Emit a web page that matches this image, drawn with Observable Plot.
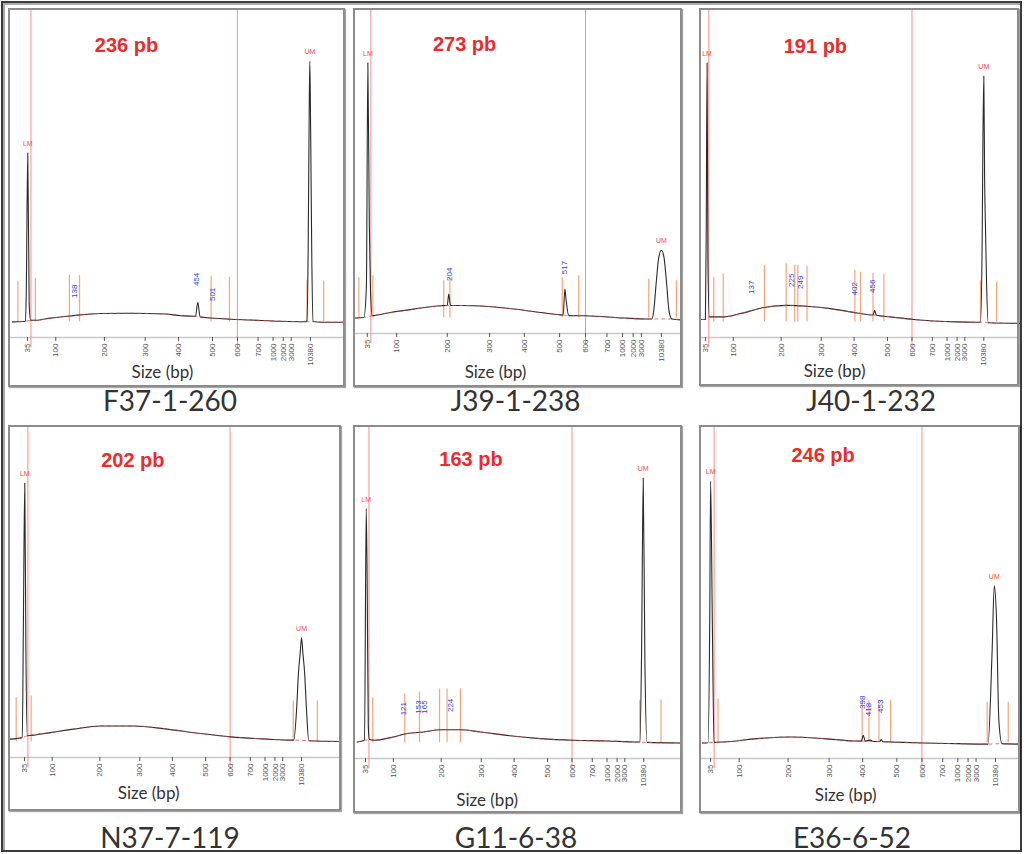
<!DOCTYPE html>
<html><head><meta charset="utf-8">
<script src="https://cdn.jsdelivr.net/npm/d3@7"></script>
<script src="https://cdn.jsdelivr.net/npm/@observablehq/plot@0.6"></script>
<style>
body{margin:0;background:#fff}
#fig{position:relative;width:1027px;height:854px;background:#fff;overflow:hidden;font-family:Lato,sans-serif}
.frame{position:absolute;left:1px;top:1px;width:1021px;height:851px;box-sizing:border-box;border:2px solid #3c3c3c;box-shadow:inset 2px 2px 0 #aaa;pointer-events:none}
.box{position:absolute;box-sizing:border-box;border:2px solid #8c8c8c;box-shadow:1px 1px 1px rgba(0,0,0,.35);pointer-events:none}
.plot{position:absolute}
.cap{position:absolute;width:240px;text-align:center;font:28px/28px Lato,sans-serif;color:#333;white-space:nowrap}
</style></head><body><div id="fig"><div class="frame"></div></div>
<script>
// ---------- data ----------
const sampleNames = ["F37-1-260", "J39-1-238", "J40-1-232", "N37-7-119", "G11-6-38", "E36-6-52"];
const avgSizes = [236, 273, 191, 202, 163, 246];
// ladder: size (bp) and relative migration time (35 bp = 0, 10380 bp = 100)
const ladderSizes = [35, 100, 200, 300, 400, 500, 600, 700, 1000, 2000, 3000, 10380];
const ladderTimes = [0, 10, 27.2, 41.6, 53.4, 65.4, 74.2, 81.5, 86.8, 90.4, 93.2, 100];
const regionBp = [43, 600];

// traces: [migration time, fluorescence, 1 = inside a peak]
const trace1 = [[-5.3,0],[-0.7,0.2],[-0.45,8.2,1],[0.1,54.1,1],[0.6,6,1],[1.1,0.5],[2.8,0.5],[8.1,1.2],[15.2,1.9],[25.8,2.7],[36.4,2.75],[48.8,2.5],[54.1,2.0],[59.4,1.8],[60.2,6.3,1],[61.0,1.6],[64.7,1.25],[71.7,0.85],[78.8,0.6],[89.4,0.2],[98.2,0.05],[98.8,0.1],[99.2,22,1],[99.6,70,1],[99.8,83.5,1],[100.1,60,1],[100.5,20,1],[100.9,0.1],[104,-0.1],[112,-0.1]];
const trace2 = [[-4.0,0],[-1.15,0.2],[-0.3,10,1],[0.2,82.7,1],[0.7,30,1],[1.1,8.8,1],[1.7,0.8],[7.9,1.8],[15.8,2.9],[24.9,4.0],[27.2,4.1],[27.7,7.75,1],[28.3,4.1],[36.2,4.0],[47.6,3.2],[58.9,1.8],[65.7,1.05],[66.6,1.0],[67.2,9.4,1],[67.6,6,1],[68.5,0.8],[74.2,0.75],[87.2,0],[95.1,-0.3],[96.8,-0.3],[97.4,2.35,1],[98.3,12.1,1],[99.1,19.6,1],[100,22.0,1],[100.9,19.6,1],[101.7,12.1,1],[102.6,2.35,1],[103.6,-0.3],[106.5,-0.6]];
const trace3 = [[-1.4,0.74],[0,0.8],[0.3,30,1],[0.6,82.9,1],[0.9,20,1],[1.4,1.6],[6.6,1.6],[12.6,2.66],[21,4.6],[29.4,5.3],[36.5,5.0],[44.9,4.25],[54.5,2.85],[60.2,2.2],[60.8,3.7,1],[61.4,2.1],[66.5,1.6],[74.8,0.75],[90.4,0],[97.6,-0.1],[98.8,-0.1],[99.4,25,1],[99.7,60,1],[100,78.7,1],[100.3,45,1],[100.6,30.3,1],[101.0,12,1],[101.6,-0.3],[113.2,-0.5]];
const trace4 = [[-5.05,0.83],[-0.8,1.3],[-0.4,37,1],[0.1,82.1,1],[0.5,30,1],[1.0,1.9],[9.4,2.9],[17.8,4.0],[27.4,5.0],[39.5,5.0],[51.5,4.0],[63.5,2.6],[74.4,1.55],[87.6,0.83],[96,0.5],[97.2,0.5],[98.2,10,1],[98.9,22,1],[99.5,28,1],[100,33,1],[100.5,28,1],[101.1,22,1],[101.8,10,1],[102.6,0.3],[114.1,0.07]];
const trace5 = [[-3.0,0.23],[-0.36,0.75],[0.25,74.1,1],[0.6,50,1],[1.0,5,1],[1.4,1.0],[3.0,0.76],[9.0,1.6],[15.0,2.9],[20.9,3.4],[26.9,4.1],[34.1,4.1],[41.3,3.4],[50.9,2.3],[62.9,1.3],[74.8,0.76],[86.8,0.55],[96.4,0.23],[98.6,0.2],[99.2,28,1],[99.8,83.7,1],[100.4,26,1],[101.2,0.1],[113.2,-0.1]];
const trace6 = [[-2.9,-0.1],[-0.9,0],[-0.3,40,1],[0,82.7,1],[0.6,38.6,1],[1.2,0.1],[4.7,0.23],[16.4,1.3],[28.1,1.8],[39.8,1.3],[50.3,0.55],[52.9,0.5],[53.6,2.3,1],[54.3,0.5],[56.1,0.8,1],[57,0.4],[59.4,0.4],[59.9,1.0,1],[60.5,0.3],[63.2,0.23],[74.8,-0.1],[86.6,-0.3],[95.9,-0.45],[97.4,-0.45],[98.8,28,1],[99.6,49.6,1],[100.4,38.6,1],[101.2,7.1,1],[102.3,-0.3],[108.8,-0.45]];

// peak start/end markers: [migration time, marker height]
const markers1 = [[-3.4,13.0],[2.8,14.0],[14.8,14.9],[18.4,14.9],[64.9,14.6],[71.4,14.3],[98.8,13.3],[104.7,13.0]];
const markers2 = [[-2.85,13.1],[1.9,13.7],[26.0,12.1],[28.1,13.1],[66.3,13.1],[71.9,13.7],[95.7,12.6],[105.1,12.1]];
const markers3 = [[3.0,14.3],[6.4,15.4],[21.2,18.1],[29.0,18.6],[32.1,18.1],[33.2,18.1],[36.5,17.8],[53.7,16.5],[55.7,15.9],[60.2,15.6],[64.1,15.2],[98.8,13.1],[104.6,12.7]];
const markers4 = [[-3.0,14.0],[2.4,14.5],[97.0,12.95],[105.7,12.95]];
const markers5 = [[2.6,14.2],[14.1,15.5],[19.4,16.0],[26.6,17.0],[29.3,17.0],[34.1,17.0],[98.6,13.4],[106.2,13.4]];
const markers6 = [[2.6,13.9],[53.2,13.4],[55.6,13.4],[59.1,13.4],[63.2,13.4],[97.1,12.8],[104.5,12.8]];

// called peaks: [size bp, label height]
const peaks1 = [[138,9.8],[454,13.6],[501,8.8]];
const peaks2 = [[204,14.2],[517,16.4]];
const peaks3 = [[137,11.1],[225,13.3],[249,12.7],[402,10.6],[456,11.4]];
const peaks4 = [];
const peaks5 = [[121,10.75],[153,11.3],[165,11.3],[224,11.8]];
const peaks6 = [[398,12.8],[418,10.5],[453,11.5]];

const traces = [trace1, trace2, trace3, trace4, trace5, trace6];
const markers = [markers1, markers2, markers3, markers4, markers5, markers6];
const peaks = [peaks1, peaks2, peaks3, peaks4, peaks5, peaks6];

// ---------- layout (positions & sizes) ----------
const layout = [
  {box:[8,8,337,379],   xDomain:[-6.0,111.7],  mb:50, titleX:35.0, titleDy:42.4, sizeX:47.7, sizeDy:34.7, cap:[170,411]},
  {box:[353,8,329,379], xDomain:[-4.0,106.5],  mb:54, titleX:33.1, titleDy:41.4, sizeX:43.6, sizeDy:39.3, cap:[515.5,411]},
  {box:[699,8,320,378], xDomain:[-1.4,112.1],  mb:49, titleX:39.5, titleDy:43.4, sizeX:46.4, sizeDy:34.4, cap:[871,411]},
  {box:[8,425,333,386], xDomain:[-5.05,113.7], mb:54, titleX:39.1, titleDy:40.7, sizeX:44.8, sizeDy:36.3, cap:[170,848]},
  {box:[353,425,329,388], xDomain:[-3.6,113.2], mb:55, titleX:37.9, titleDy:39.0, sizeX:43.7, sizeDy:41.7, cap:[516,848]},
  {box:[699,425,321,388], xDomain:[-3.2,108.1], mb:55, titleX:39.5, titleDy:35.7, sizeX:47.4, sizeDy:36.7, cap:[852,848]}
];

const bpToTime = d3.scaleLinear().domain(ladderSizes).range(ladderTimes);
const tickLabel = new Map(ladderTimes.map((t, i) => [t, String(ladderSizes[i])]));
const fig = document.getElementById("fig");

layout.forEach((L, i) => {
  const [bx, by, W, H] = L.box;
  const trace = traces[i];
  const lm = d3.greatest(trace.filter(d => Math.abs(d[0]) < 5), d => d[1]);
  const um = d3.greatest(trace.filter(d => Math.abs(d[0] - 100) < 5), d => d[1]);
  const axisOpts = {tickFormat: d => tickLabel.get(d), tickRotate: -90, tickSize: 4, tickPadding: 2, fontSize: 8, color: "#555", label: null};
  const marks = [
    Plot.ruleY([-5], {stroke: "#c8c8c8", strokeWidth: 1.5}),
    Plot.ruleX(regionBp.map(b => bpToTime(b)), {y1: 100, y2: -8.3, stroke: "#ff8a8a", strokeWidth: 1}),
    Plot.ruleX(markers[i], {x: d => d[0], y1: 0, y2: d => d[1], stroke: "#f7a57a", strokeWidth: 1.2}),
    Plot.line(trace, {x: d => d[0], y: d => d[1], stroke: "#2b2b2b", strokeWidth: 1.1, curve: "monotone-x"}),
    Plot.line(trace.filter(d => !d[2]), {x: d => d[0], y: d => d[1], stroke: "#e0403a", strokeWidth: 1, strokeDasharray: "3,4", strokeOpacity: 0.75, curve: "monotone-x"}),
    Plot.text(peaks[i], {x: d => bpToTime(d[0]), y: d => d[1], text: d => String(d[0]), rotate: -90, fill: "#2f40f5", fontSize: 8, fontFamily: "Liberation Sans, Arial, sans-serif"}),
    Plot.text([lm, um], {x: d => d[0], y: d => d[1], text: ["LM", "UM"], dy: -9, fill: "#ff4646", fontSize: 7, fontFamily: "Liberation Sans, Arial, sans-serif"}),
    Plot.text([`${avgSizes[i]} pb`], {x: L.titleX, text: d => d, frameAnchor: "top", dy: L.titleDy, lineAnchor: "bottom", fill: "#ee2a2a", fontWeight: "bold", fontSize: 20, fontFamily: "Liberation Sans, Arial, sans-serif"}),
    Plot.text(["Size (bp)"], {x: L.sizeX, text: d => d, frameAnchor: "bottom", dy: L.sizeDy, lineAnchor: "middle", fill: "#333", fontSize: 17, fontFamily: "Lato, sans-serif"})
  ];
  let xScale = {domain: L.xDomain, axis: null};
  if (Plot.axisX) marks.push(Plot.axisX(ladderTimes, axisOpts));
  else xScale = {domain: L.xDomain, ticks: ladderTimes, tickFormat: d => tickLabel.get(d), tickRotate: -90, tickSize: 4, tickPadding: 2, label: null};
  const svg = Plot.plot({
    width: W, height: H,
    marginLeft: 2, marginRight: 2, marginTop: 1, marginBottom: L.mb,
    x: xScale,
    y: {domain: [-5, 100], axis: null},
    style: {background: "transparent", overflow: "visible", fontFamily: "Liberation Sans, Arial, sans-serif", color: "#555"},
    marks
  });
  const wrap = document.createElement("div");
  wrap.className = "plot";
  wrap.style.left = bx + "px"; wrap.style.top = by + "px";
  wrap.appendChild(svg);
  fig.appendChild(wrap);
  const box = document.createElement("div");
  box.className = "box";
  Object.assign(box.style, {left: bx + "px", top: by + "px", width: W + "px", height: H + "px"});
  fig.appendChild(box);
  const cap = document.createElement("div");
  cap.className = "cap";
  cap.textContent = sampleNames[i];
  cap.style.left = (L.cap[0] - 120) + "px";
  cap.style.top = (L.cap[1] - 25) + "px";
  fig.appendChild(cap);
});
</script></body></html>
